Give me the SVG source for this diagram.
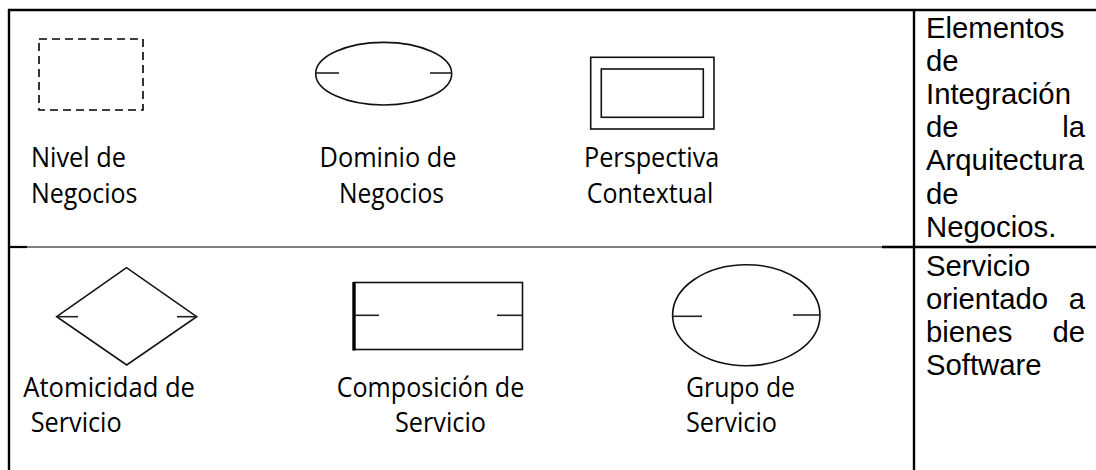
<svg xmlns="http://www.w3.org/2000/svg" width="1096" height="470" viewBox="0 0 1096 470">
<style>
.lbl{font-family:"Open Sans","Noto Sans","Liberation Sans",sans-serif;font-size:26.5px;fill:#000}
.col{font-family:"Liberation Sans",Arial,sans-serif;font-size:29.3px;fill:#000}
.shape{fill:none;stroke:#111;stroke-width:1.6}
.tick{stroke:#222;stroke-width:1.6}
.grid{stroke:#000;fill:none}
</style>
<rect width="1096" height="470" fill="#fff"/>
<g id="table">
  <line class="grid" x1="8" y1="10" x2="1096" y2="10" stroke-width="2.4"/>
  <line class="grid" x1="9" y1="9" x2="9" y2="470" stroke-width="2.4"/>
  <line class="grid" x1="914" y1="9" x2="914" y2="470" stroke-width="2.4"/>
  <line class="grid" x1="9" y1="247" x2="882" y2="247" stroke-width="1.2"/>
  <line class="grid" x1="9" y1="247" x2="27" y2="247" stroke-width="2.2"/>
  <line class="grid" x1="882" y1="247" x2="1096" y2="247" stroke-width="2.4"/>
</g>
<g id="nivel-negocios">
  <rect x="39" y="39" width="104" height="71" fill="none" stroke="#000" stroke-width="1.6" stroke-dasharray="8 5"/>
  <text class="lbl" x="31" y="166.7" textLength="95" lengthAdjust="spacingAndGlyphs">Nivel de</text>
  <text class="lbl" x="31" y="202.7" textLength="106.5" lengthAdjust="spacingAndGlyphs">Negocios</text>
</g>
<g id="dominio-negocios">
  <ellipse class="shape" cx="383.7" cy="73.7" rx="68" ry="31.3" stroke="#333"/>
  <line class="tick" x1="316" y1="73" x2="339" y2="73"/>
  <line class="tick" x1="430" y1="73" x2="452" y2="73"/>
  <text class="lbl" x="319.5" y="166.7" textLength="137" lengthAdjust="spacingAndGlyphs">Dominio de</text>
  <text class="lbl" x="339" y="202.7" textLength="105" lengthAdjust="spacingAndGlyphs">Negocios</text>
</g>
<g id="perspectiva-contextual">
  <rect class="shape" x="590.7" y="57.3" width="123.3" height="71.7" stroke-width="1.5"/>
  <rect class="shape" x="601.3" y="69" width="102" height="48.3" stroke-width="1.5"/>
  <text class="lbl" x="584" y="166.7" textLength="135.3" lengthAdjust="spacingAndGlyphs">Perspectiva</text>
  <text class="lbl" x="586.7" y="202.7" textLength="126.6" lengthAdjust="spacingAndGlyphs">Contextual</text>
</g>
<g id="elementos-integracion">
  <text class="col" x="926" y="38">Elementos</text>
  <text class="col" x="926" y="71.1">de</text>
  <text class="col" x="926" y="104.2">Integración</text>
  <text class="col" x="926" y="137.3">de</text>
  <text class="col" x="1085" y="137.3" text-anchor="end">la</text>
  <text class="col" x="926" y="170.4">Arquitectura</text>
  <text class="col" x="926" y="203.5">de</text>
  <text class="col" x="926" y="236.6">Negocios.</text>
</g>
<g id="atomicidad-servicio">
  <polygon class="shape" points="56.7,316.7 126.5,267.7 196.7,316.7 126.7,365" stroke="#000"/>
  <line class="tick" x1="57" y1="316.7" x2="78" y2="316.7"/>
  <line class="tick" x1="177" y1="316.7" x2="197" y2="316.7"/>
  <text class="lbl" x="23.3" y="396.7" textLength="171.7" lengthAdjust="spacingAndGlyphs">Atomicidad de</text>
  <text class="lbl" x="30.7" y="431.7" textLength="91" lengthAdjust="spacingAndGlyphs">Servicio</text>
</g>
<g id="composicion-servicio">
  <rect class="shape" x="354" y="282.5" width="168.5" height="67" stroke="#000" stroke-width="2"/>
  <line x1="354" y1="282" x2="354" y2="350.5" stroke="#000" stroke-width="3.4"/>
  <line class="tick" x1="355" y1="315.3" x2="379" y2="315.3" stroke-width="1.8"/>
  <line class="tick" x1="497" y1="315.3" x2="522" y2="315.3" stroke-width="1.8"/>
  <text class="lbl" x="336.7" y="396.7" textLength="187.6" lengthAdjust="spacingAndGlyphs">Composición de</text>
  <text class="lbl" x="395" y="431.7" textLength="91" lengthAdjust="spacingAndGlyphs">Servicio</text>
</g>
<g id="grupo-servicio">
  <ellipse class="shape" cx="746.3" cy="315.2" rx="73.7" ry="50.5" stroke-width="2"/>
  <line class="tick" x1="673" y1="316.3" x2="702" y2="316.3"/>
  <line class="tick" x1="793" y1="315" x2="820" y2="315"/>
  <text class="lbl" x="686" y="396.7" textLength="109" lengthAdjust="spacingAndGlyphs">Grupo de</text>
  <text class="lbl" x="686" y="431.7" textLength="91" lengthAdjust="spacingAndGlyphs">Servicio</text>
</g>
<g id="servicio-software">
  <text class="col" x="926" y="276">Servicio</text>
  <text class="col" x="926" y="309.1">orientado</text>
  <text class="col" x="1085" y="309.1" text-anchor="end">a</text>
  <text class="col" x="926" y="342.2">bienes</text>
  <text class="col" x="1085" y="342.2" text-anchor="end">de</text>
  <text class="col" x="926" y="375.3">Software</text>
</g>
<g id="connectors"/>
</svg>
